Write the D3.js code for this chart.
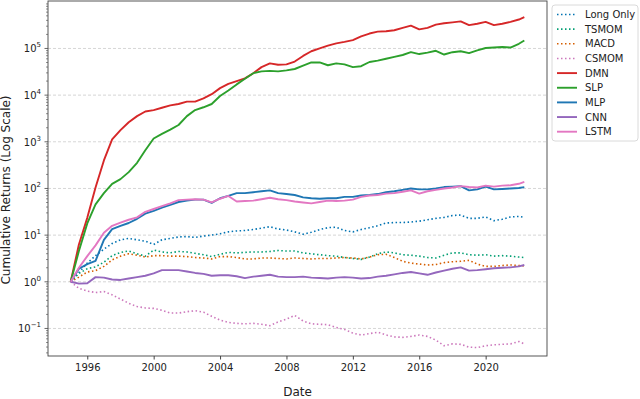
<!DOCTYPE html>
<html lang="en">

<head>
    <meta charset="UTF-8">
    <title>Cumulative Returns</title>
    <style>
        body { margin: 0; background: #fff; }
        svg { display: block; font-family: "DejaVu Sans", sans-serif; }
    </style>
</head>

<body>
    <svg id="chart"></svg>

    <script src="https://cdn.jsdelivr.net/npm/d3@7"></script>
    <script>
        // Dates (semi-annual samples)
        var dates = [
            "1995-01", "1995-07", "1996-01", "1996-07", "1997-01", "1997-07", "1998-01", "1998-07",
            "1999-01", "1999-07", "2000-01", "2000-07", "2001-01", "2001-07", "2002-01", "2002-07",
            "2003-01", "2003-07", "2004-01", "2004-07", "2005-01", "2005-07", "2006-01", "2006-07",
            "2007-01", "2007-07", "2008-01", "2008-07", "2009-01", "2009-07", "2010-01", "2010-07",
            "2011-01", "2011-07", "2012-01", "2012-07", "2013-01", "2013-07", "2014-01", "2014-07",
            "2015-01", "2015-07", "2016-01", "2016-07", "2017-01", "2017-07", "2018-01", "2018-07",
            "2019-01", "2019-07", "2020-01", "2020-07", "2021-01", "2021-07", "2022-01", "2022-05"
        ];

        // log10 of cumulative returns, one array per strategy
        var longOnly = [0, 0.20, 0.40, 0.56, 0.70, 0.82, 0.90, 0.93, 0.90, 0.87, 0.80, 0.90, 0.93, 0.96, 0.97, 0.95,
            0.98, 1.00, 1.03, 1.07, 1.09, 1.10, 1.12, 1.15, 1.18, 1.13, 1.11, 1.07, 1.02, 1.06, 1.12, 1.16,
            1.17, 1.10, 1.07, 1.12, 1.16, 1.20, 1.26, 1.27, 1.27, 1.28, 1.30, 1.33, 1.36, 1.38, 1.42, 1.43,
            1.36, 1.36, 1.39, 1.31, 1.34, 1.39, 1.40, 1.38];
        var tsmom = [0, 0.18, 0.28, 0.32, 0.42, 0.56, 0.63, 0.66, 0.60, 0.55, 0.68, 0.64, 0.62, 0.65, 0.64, 0.61,
            0.58, 0.54, 0.59, 0.63, 0.62, 0.63, 0.64, 0.64, 0.65, 0.67, 0.66, 0.66, 0.62, 0.60, 0.58, 0.56,
            0.55, 0.52, 0.50, 0.48, 0.53, 0.60, 0.64, 0.62, 0.58, 0.57, 0.55, 0.52, 0.51, 0.57, 0.62, 0.62,
            0.58, 0.57, 0.58, 0.55, 0.56, 0.55, 0.53, 0.52];
        var macd = [0, 0.10, 0.21, 0.24, 0.33, 0.47, 0.55, 0.60, 0.57, 0.53, 0.56, 0.56, 0.55, 0.55, 0.54, 0.52,
            0.51, 0.49, 0.54, 0.54, 0.52, 0.49, 0.49, 0.51, 0.51, 0.50, 0.49, 0.51, 0.50, 0.49, 0.50, 0.50,
            0.51, 0.52, 0.51, 0.49, 0.53, 0.58, 0.59, 0.52, 0.44, 0.40, 0.38, 0.36, 0.37, 0.41, 0.43, 0.44,
            0.46, 0.38, 0.33, 0.33, 0.35, 0.36, 0.35, 0.34];
        var csmom = [0, -0.14, -0.20, -0.23, -0.21, -0.28, -0.37, -0.46, -0.53, -0.56, -0.57, -0.61, -0.67, -0.67, -0.64, -0.62,
            -0.65, -0.74, -0.82, -0.87, -0.89, -0.90, -0.89, -0.91, -0.94, -0.86, -0.80, -0.72, -0.84, -0.90, -0.91, -0.92,
            -0.98, -1.02, -1.10, -1.14, -1.11, -1.08, -1.14, -1.18, -1.19, -1.17, -1.14, -1.17, -1.25, -1.37, -1.33, -1.34,
            -1.40, -1.41, -1.37, -1.35, -1.34, -1.33, -1.28, -1.33];
        var dmn = [0, 0.80, 1.37, 2.02, 2.60, 3.05, 3.25, 3.42, 3.55, 3.65, 3.68, 3.73, 3.78, 3.81, 3.86, 3.86,
            3.93, 4.02, 4.15, 4.24, 4.30, 4.36, 4.47, 4.60, 4.68, 4.65, 4.66, 4.72, 4.84, 4.94, 5.00, 5.06,
            5.11, 5.14, 5.18, 5.26, 5.32, 5.36, 5.37, 5.39, 5.44, 5.49, 5.41, 5.44, 5.51, 5.54, 5.56, 5.58,
            5.50, 5.53, 5.57, 5.50, 5.53, 5.57, 5.62, 5.67];
        var slp = [0, 0.66, 1.25, 1.66, 1.90, 2.10, 2.20, 2.35, 2.55, 2.82, 3.07, 3.17, 3.26, 3.36, 3.55, 3.68,
            3.74, 3.81, 3.98, 4.10, 4.23, 4.35, 4.47, 4.51, 4.52, 4.51, 4.53, 4.56, 4.63, 4.70, 4.70, 4.64,
            4.68, 4.66, 4.60, 4.62, 4.71, 4.74, 4.78, 4.82, 4.86, 4.92, 4.88, 4.91, 4.95, 4.87, 4.92, 4.94,
            4.90, 4.96, 5.01, 5.02, 5.03, 5.02, 5.10, 5.17];
        var mlp = [0, 0.28, 0.38, 0.45, 0.90, 1.13, 1.20, 1.26, 1.35, 1.46, 1.52, 1.59, 1.65, 1.71, 1.74, 1.76,
            1.76, 1.69, 1.79, 1.84, 1.90, 1.90, 1.92, 1.94, 1.96, 1.90, 1.88, 1.86, 1.81, 1.79, 1.78, 1.79,
            1.79, 1.82, 1.82, 1.85, 1.86, 1.88, 1.92, 1.94, 1.97, 2.00, 1.98, 1.98, 2.00, 2.03, 2.04, 2.05,
            1.96, 1.98, 2.04, 1.98, 1.99, 2.00, 2.01, 2.03];
        var cnn = [0, -0.04, -0.03, 0.10, 0.09, 0.05, 0.04, 0.07, 0.10, 0.13, 0.18, 0.25, 0.25, 0.25, 0.22, 0.19,
            0.17, 0.13, 0.14, 0.14, 0.12, 0.08, 0.11, 0.13, 0.15, 0.11, 0.10, 0.10, 0.11, 0.09, 0.08, 0.07,
            0.09, 0.10, 0.09, 0.07, 0.08, 0.11, 0.13, 0.16, 0.19, 0.21, 0.18, 0.15, 0.20, 0.24, 0.28, 0.31,
            0.24, 0.25, 0.27, 0.29, 0.30, 0.31, 0.33, 0.36];
        var lstm = [0, 0.30, 0.55, 0.78, 1.05, 1.20, 1.27, 1.33, 1.38, 1.50, 1.56, 1.62, 1.68, 1.75, 1.76, 1.77,
            1.76, 1.70, 1.78, 1.84, 1.72, 1.73, 1.74, 1.77, 1.80, 1.77, 1.75, 1.72, 1.70, 1.68, 1.71, 1.74,
            1.73, 1.74, 1.76, 1.82, 1.85, 1.86, 1.89, 1.90, 1.93, 1.96, 1.89, 1.94, 1.97, 2.00, 2.02, 2.05,
            2.03, 2.02, 2.06, 2.04, 2.06, 2.07, 2.10, 2.14];

        var names = ["Long Only", "TSMOM", "MACD", "CSMOM", "DMN", "SLP", "MLP", "CNN", "LSTM"];
        var seriesLogs = [longOnly, tsmom, macd, csmom, dmn, slp, mlp, cnn, lstm];
        var colors = ["#0173b2", "#029e73", "#d55e00", "#cc78bc", "#d62728", "#2ca02c", "#1f77b4", "#9467bd", "#e377c2"];
        var dotted = [true, true, true, true, false, false, false, false, false];
        var yearTicks = [1996, 2000, 2004, 2008, 2012, 2016, 2020];
        var yTickExps = [-1, 0, 1, 2, 3, 4, 5];

        // Constants
        var W = 640, H = 399;
        var margin = { top: 1, right: 93, bottom: 43, left: 48 },
            width = W - margin.left - margin.right,
            height = H - margin.top - margin.bottom;

        var svg = d3.select("#chart")
            .attr("width", W)
            .attr("height", H);

        var chart = svg.append("g")
            .attr("transform", "translate(" + margin.left + "," + margin.top + ")");

        var parse = d3.timeParse("%Y-%m");
        var dateObjs = dates.map(parse);

        // matplotlib-like 5% padding on the x range
        var ext = d3.extent(dateObjs);
        var pad = (ext[1] - ext[0]) * 0.05;
        var x = d3.scaleTime()
            .domain([new Date(+ext[0] - pad), new Date(+ext[1] + pad)])
            .range([0, width]);

        var y = d3.scaleLog()
            .domain([Math.pow(10, -1.59), Math.pow(10, 6.017)])
            .range([height, 0]);

        // Grid
        chart.append("g")
            .selectAll("line")
            .data(yTickExps)
            .enter()
            .append("line")
            .attr("x1", 0)
            .attr("x2", width)
            .attr("y1", d => y(Math.pow(10, d)))
            .attr("y2", d => y(Math.pow(10, d)))
            .attr("stroke", "#cccccc")
            .attr("stroke-width", 0.8)
            .attr("stroke-dasharray", "3,2");

        // Lines
        var line = d3.line()
            .x((d, i) => x(dateObjs[i]))
            .y(d => y(d));

        seriesLogs.forEach((logs, k) => {
            var vals = logs.map(l => Math.pow(10, l));
            chart.append("path")
                .datum(vals)
                .attr("fill", "none")
                .attr("stroke", colors[k])
                .attr("stroke-width", dotted[k] ? 1.6 : 1.9)
                .attr("stroke-dasharray", dotted[k] ? "1.5,2.5" : null)
                .attr("stroke-linejoin", "round")
                .attr("d", line);
        });

        // Axes
        var xAxis = chart.append("g")
            .attr("transform", "translate(0," + height + ")")
            .call(d3.axisBottom(x)
                .tickValues(yearTicks.map(yr => new Date(yr, 0, 1)))
                .tickFormat(d3.timeFormat("%Y"))
                .tickSizeOuter(0)
                .tickSize(3.5)
                .tickPadding(4));
        xAxis.select(".domain").remove();
        xAxis.selectAll("text").attr("font-size", 10).attr("fill", "#222").attr("font-family", "DejaVu Sans");
        xAxis.selectAll("line").attr("stroke", "#444");

        // Minor log ticks
        var minors = [];
        for (var e = -2; e <= 6; e++) {
            for (var m = 2; m <= 9; m++) {
                var v = m * Math.pow(10, e);
                if (v > y.domain()[0] && v < y.domain()[1]) minors.push(v);
            }
        }
        chart.append("g")
            .selectAll("line")
            .data(minors)
            .enter()
            .append("line")
            .attr("x1", -2)
            .attr("x2", 0)
            .attr("y1", d => y(d))
            .attr("y2", d => y(d))
            .attr("stroke", "#444")
            .attr("stroke-width", 0.6);

        var yAxis = chart.append("g");
        yTickExps.forEach(ex => {
            var yy = y(Math.pow(10, ex));
            yAxis.append("line")
                .attr("x1", -3.5).attr("x2", 0)
                .attr("y1", yy).attr("y2", yy)
                .attr("stroke", "#444").attr("stroke-width", 0.8);
            var t = yAxis.append("text")
                .attr("x", -7)
                .attr("y", yy + 4)
                .attr("text-anchor", "end")
                .attr("font-size", 10)
                .attr("fill", "#222");
            t.append("tspan").text("10");
            t.append("tspan")
                .attr("dy", -5)
                .attr("font-size", 7)
                .text(ex < 0 ? "\u2212" + (-ex) : String(ex));
        });

        // Frame
        chart.append("rect")
            .attr("x", 0).attr("y", 0)
            .attr("width", width).attr("height", height)
            .attr("fill", "none")
            .attr("stroke", "#444")
            .attr("stroke-width", 0.9);

        // Axis labels
        svg.append("text")
            .attr("x", margin.left + width / 2)
            .attr("y", 396)
            .attr("text-anchor", "middle")
            .attr("font-size", 12)
            .attr("fill", "#222")
            .text("Date");

        svg.append("text")
            .attr("transform", "translate(10,190) rotate(-90)")
            .attr("text-anchor", "middle")
            .attr("font-size", 12)
            .attr("fill", "#222")
            .text("Cumulative Returns (Log Scale)");

        // Legend
        var legend = svg.append("g").attr("transform", "translate(552,5)");
        legend.append("rect")
            .attr("width", 86).attr("height", 136)
            .attr("rx", 3)
            .attr("fill", "#fff")
            .attr("stroke", "#d0d0d0")
            .attr("stroke-width", 0.8);

        names.forEach((n, k) => {
            var ly = 9.5 + k * 14.65;
            legend.append("line")
                .attr("x1", 5).attr("x2", 25)
                .attr("y1", ly).attr("y2", ly)
                .attr("stroke", colors[k])
                .attr("stroke-width", dotted[k] ? 1.6 : 1.9)
                .attr("stroke-dasharray", dotted[k] ? "1.5,2.5" : null);
            legend.append("text")
                .attr("x", 33)
                .attr("y", ly + 3.6)
                .attr("font-size", 10)
                .attr("fill", "#222")
                .text(n);
        });
    </script>
</body>

</html>
